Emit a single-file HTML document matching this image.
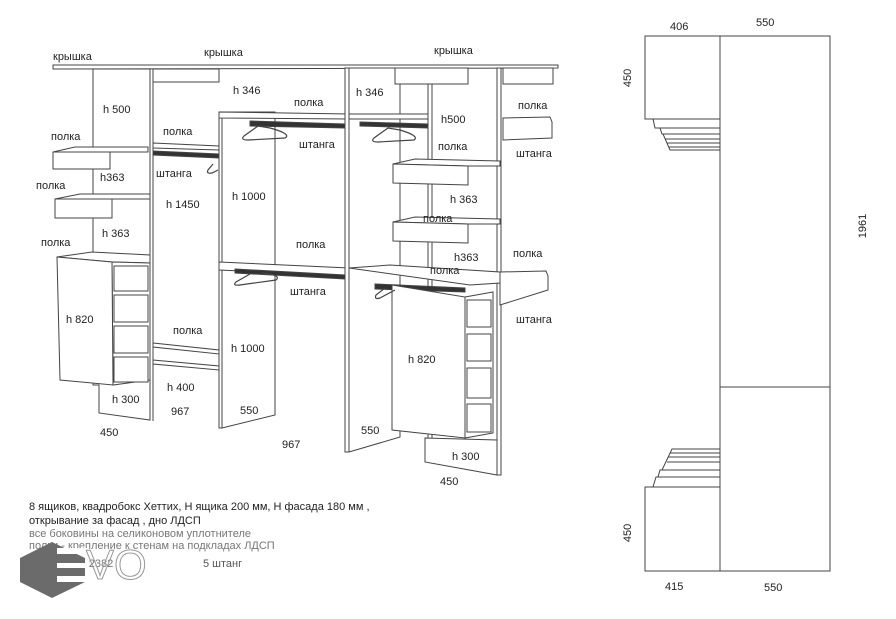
<!DOCTYPE html>
<html><head><meta charset="utf-8"><style>
body{margin:0;background:#fff;}
svg{display:block;font-family:"Liberation Sans",sans-serif;}
text{font-size:11px;fill:#222;}
</style></head><body>
<svg width="896" height="619" viewBox="0 0 896 619" xmlns="http://www.w3.org/2000/svg">
<g fill="#fff" stroke="#444" stroke-width="1">
<!-- top cover -->
<polygon points="53,65 558,65 558,68 53,69"/>
<!-- left panel -->
<polygon points="93,69 150,69 150,420 99,413 99,385 93,385"/>
<line x1="153" y1="69" x2="153" y2="421"/>
<!-- left shelves -->
<polygon points="53,152 75,147 148,147 148,152 110,152"/>
<rect x="53" y="152" width="57" height="17"/>
<polygon points="55,199 80,194 150,194 150,199 112,199"/>
<rect x="55" y="199" width="57" height="19"/>
<!-- left drawer unit -->
<polygon points="57,257 92,252 150,255 150,263 112,262"/>
<polygon points="112,262 150,263 150,380 113,385"/>
<polygon points="57,257 112,262 113,385 60,380"/>
<rect x="114" y="266" width="34" height="25"/>
<rect x="114" y="295" width="34" height="27"/>
<rect x="114" y="326" width="34" height="27"/>
<rect x="114" y="357" width="34" height="25"/>
<!-- section 2 -->
<rect x="153" y="69" width="66" height="13"/>
<polygon points="153,143 219,146 219,150 153,148"/>
<polygon points="153,151 219,154 219,158 153,155" fill="#333"/>
<polygon points="153,343 219,350 219,354 153,347"/>
<polygon points="153,360 219,366 219,370 153,364"/>
<!-- panel B -->
<polygon points="219,112 275,112 275,415 222,428 219,428"/>
<line x1="222" y1="112" x2="222" y2="428"/>
<polygon points="219,112 349,114 349,119 219,118"/>
<polygon points="250,121 345,124 345,128 250,126" fill="#333"/>
<polygon points="219,262 349,268 349,276 219,270"/>
<polygon points="235,269 345,275 345,279 235,273" fill="#333"/>
<!-- panel C -->
<polygon points="345,68 400,68 400,437 349,452 345,452"/>
<line x1="349" y1="68" x2="349" y2="452"/>
<rect x="395" y="68" width="73" height="16"/>
<rect x="503" y="68" width="50" height="16"/>
<polygon points="349,114 430,114 430,119 349,119"/>
<polygon points="360,122 428,124 428,128 360,126" fill="#333"/>
<!-- panel D -->
<polygon points="428,84 432,84 432,440 428,440"/>
<polygon points="497,68 501,68 501,475 497,475"/>
<!-- right shelves -->
<polygon points="393,164 415,159 500,161 500,166 468,166"/>
<polygon points="393,164 468,166 468,185 393,183"/>
<polygon points="393,222 415,217 500,219 500,224 468,224"/>
<polygon points="393,222 468,224 468,243 393,241"/>
<polygon points="503,118 550,117 552,122 552,138 503,140"/>
<polygon points="349,268 390,265 500,272 500,283 470,285"/>
<polygon points="500,272 546,271 548,276 548,290 500,305"/>
<polygon points="375,284 465,288 465,292 375,289" fill="#333"/>
<!-- right drawer unit -->
<polygon points="392,285 465,297 465,438 392,430"/>
<polygon points="465,297 493,292 493,433 465,438"/>
<rect x="467" y="300" width="24" height="27"/>
<rect x="467" y="334" width="24" height="27"/>
<rect x="467" y="368" width="24" height="30"/>
<rect x="467" y="404" width="24" height="28"/>
<polygon points="425,438 497,440 497,475 425,462"/>
</g>
<!-- hangers -->
<g fill="none" stroke="#444" stroke-width="1.2">
<path d="M258,126 L244,136 Q240,140 248,140 L285,138 Q292,134 270,128 Z"/>
<path d="M388,128 L374,138 Q370,142 378,142 L414,140 Q420,136 400,130 Z"/>
<path d="M250,274 L236,282 Q232,286 240,285 L276,280 Q282,275 262,273"/>
<path d="M385,288 L376,295 Q374,300 380,298 L395,290"/>
<path d="M213,164 L208,170 Q206,174 212,173 L218,170"/>
</g>
<!-- labels -->
<g>
<text x="53" y="60">крышка</text><text x="204" y="56">крышка</text><text x="434" y="54">крышка</text>
<text x="103" y="113">h 500</text><text x="51" y="140">полка</text><text x="163" y="135">полка</text>
<text x="233" y="94">h 346</text><text x="294" y="106">полка</text><text x="356" y="96">h 346</text>
<text x="441" y="123">h500</text><text x="518" y="109">полка</text><text x="438" y="150">полка</text>
<text x="299" y="148">штанга</text><text x="516" y="157">штанга</text>
<text x="156" y="177">штанга</text><text x="100" y="181">h363</text><text x="36" y="189">полка</text>
<text x="232" y="200">h 1000</text><text x="166" y="208">h 1450</text><text x="450" y="203">h 363</text>
<text x="423" y="222">полка</text>
<text x="102" y="237">h 363</text><text x="41" y="246">полка</text><text x="296" y="248">полка</text>
<text x="454" y="261">h363</text><text x="430" y="274">полка</text><text x="513" y="257">полка</text>
<text x="290" y="295">штанга</text><text x="66" y="323">h 820</text><text x="516" y="323">штанга</text>
<text x="173" y="334">полка</text><text x="231" y="352">h 1000</text><text x="408" y="363">h 820</text>
<text x="167" y="391">h 400</text><text x="112" y="403">h 300</text><text x="171" y="415">967</text>
<text x="240" y="414">550</text><text x="100" y="436">450</text><text x="361" y="434">550</text>
<text x="282" y="448">967</text><text x="452" y="460">h 300</text><text x="440" y="485">450</text>
<text x="29" y="510">8  ящиков, квадробокс Хеттих, Н ящика 200 мм, Н  фасада 180 мм ,</text>
<text x="29" y="524">открывание за фасад  , дно ЛДСП</text>
<text x="29" y="537" style="fill:#777">все боковины на  селиконовом уплотнителе</text>
<text x="29" y="549" style="fill:#777">полки - крепление к стенам на подкладах ЛДСП</text>
<text x="35" y="567" style="fill:#777">h боковин 2382</text><text x="203" y="567" style="fill:#555">5 штанг</text>
</g>
<!-- watermark -->
<polygon points="52,542 85,558 85,582 52,598 20,582 20,558" fill="#6b6b6b"/>
<g fill="#fff"><rect x="57" y="548" width="30" height="6"/><rect x="57" y="563" width="28" height="5"/><rect x="57" y="576" width="30" height="6"/></g>
<text x="86" y="579" style="font-size:42px;fill:none;stroke:#999;stroke-width:1">VO</text>
<!-- right view -->
<g fill="#fff" stroke="#444" stroke-width="1">
<rect x="645" y="36" width="75" height="83"/>
<rect x="720" y="36" width="110" height="535"/>
<line x1="720" y1="387" x2="830" y2="387"/>
<rect x="645" y="487" width="75" height="84"/>
<polygon points="653,119 720,119 720,128 655,128"/>
<polygon points="660,128 720,128 720,134 662,134"/>
<polygon points="663,134 720,134 720,150 670,150"/>
<line x1="665" y1="139" x2="720" y2="139"/><line x1="667" y1="143" x2="720" y2="143"/><line x1="669" y1="147" x2="720" y2="147"/>
<polygon points="653,487 720,487 720,477 656,477"/>
<polygon points="658,477 720,477 720,470 660,470"/>
<polygon points="662,470 720,470 720,449 672,449"/>
<line x1="667" y1="462" x2="720" y2="462"/><line x1="668" y1="457" x2="720" y2="457"/><line x1="670" y1="453" x2="720" y2="453"/>
</g>
<text x="670" y="30">406</text><text x="756" y="26">550</text>
<text x="665" y="590">415</text><text x="764" y="591">550</text>
<text transform="translate(631,78) rotate(-90)" text-anchor="middle">450</text>
<text transform="translate(631,533) rotate(-90)" text-anchor="middle">450</text>
<text transform="translate(866,226) rotate(-90)" text-anchor="middle">1961</text>
</svg>
</body></html>
